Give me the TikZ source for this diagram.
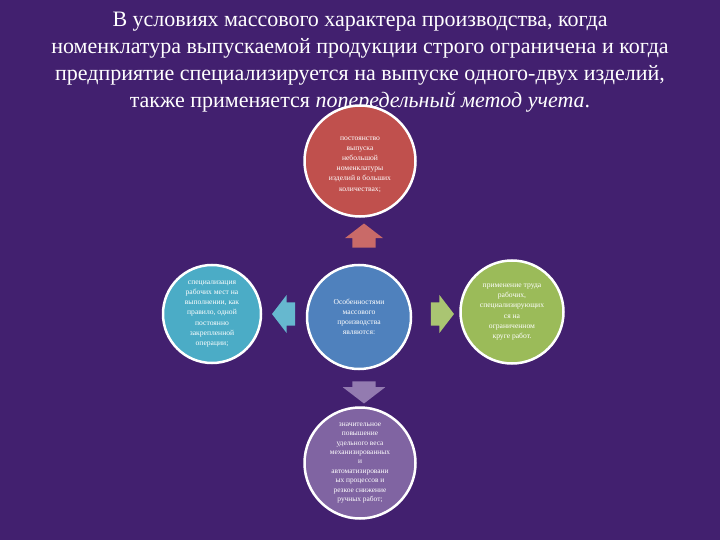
\documentclass[tikz,border=0pt]{standalone}
\usepackage{fontspec}
\setmainfont{Liberation Serif}
\usepackage{xcolor}
\usetikzlibrary{
  positioning,
  shapes.arrows}
\definecolor{bgpurple}{HTML}{42206F}
\definecolor{redc}{HTML}{C0504D}
\definecolor{cyanc}{HTML}{4BACC6}
\definecolor{bluec}{HTML}{4F81BD}
\definecolor{greenc}{HTML}{9BBB59}
\definecolor{violc}{HTML}{8064A2}
\tikzset{bubble/.style={circle, draw=white, line width=2.5pt, text=white, align=center,
           font=\fontsize{7.6}{10.2}\selectfont, inner sep=0pt},
         pointer/.style={single arrow, draw=none, inner xsep=0pt, inner ysep=11.5pt,
           minimum height=24pt, single arrow head extend=7.5pt, single arrow tip angle=105}
        }

\begin{document}
\begin{tikzpicture}[x=1pt,y=-1pt]
%Background
\fill[bgpurple] (0,0) rectangle (720,540);
\useasboundingbox (0,0) rectangle (720,540);

%Title
\node[text=white, align=center, font=\fontsize{22}{26.8}\selectfont, anchor=north] (title) at (360,9)
  {В условиях массового характера производства, когда\\
   номенклатура выпускаемой продукции строго ограничена и когда\\
   предприятие специализируется на выпуске одного-двух изделий,\\
   также применяется \textit{попередельный метод учета}.};

%Circles
\node[bubble, fill=redc, minimum size=111pt] (top) at (360,161)
  {\\постоянство\\выпуска\\небольшой\\номенклатуры\\изделий в больших\\количествах;};
\node[bubble, fill=cyanc, minimum size=98pt] (left) at (212,314)
  {специализация\\рабочих мест на\\выполнении, как\\правило, одной\\постоянно\\закрепленной\\операции;};
\node[bubble, fill=bluec, minimum size=104pt] (center) at (359,317)
  {Особенностями\\массового\\производства\\являются:};
\node[bubble, fill=greenc, minimum size=103pt] (right) at (512,312)
  {применение труда\\рабочих,\\специализирующих\\ся на\\ограниченном\\круге работ.};
\node[bubble, fill=violc, minimum size=111pt, font=\fontsize{7.4}{9.4}\selectfont] (bottom) at (360,463)
  {значительное\\повышение\\удельного веса\\механизированных\\и\\автоматизировани\\ых процессов и\\резкое снижение\\ручных работ;};

%Arrows
\node[pointer, fill=redc!85!white, rotate=90] (up) at (364,240) {};
\node[pointer, fill=cyanc!85!white, rotate=180, minimum height=23pt] (toleft) at (288,314) {};
\node[pointer, fill=greenc!85!white, minimum height=23pt] (toright) at (438,314) {};
\node[pointer, fill=violc!85!white, rotate=-90, minimum height=22pt,
      single arrow head extend=9.5pt] (down) at (364,388) {};
\end{tikzpicture}
\end{document}
